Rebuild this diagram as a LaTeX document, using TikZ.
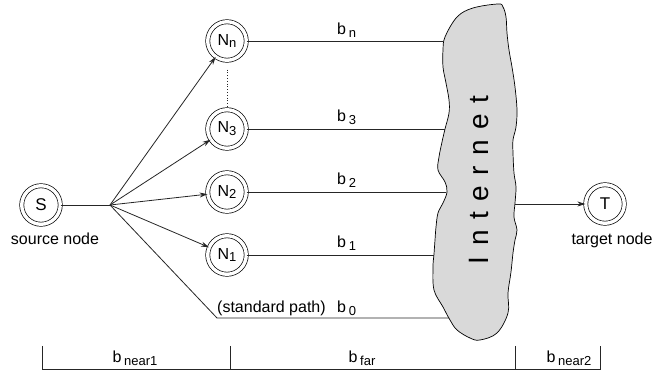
\documentclass[tikz,border=0pt]{standalone}
\usepackage{fontspec}
\setmainfont{Liberation Sans}
\usetikzlibrary{arrows.meta}
\newcommand\lsub[1]{\raisebox{-0.35ex}{\fontsize{13}{13}\selectfont #1}}
\newcommand\gp{\hspace{10.5pt}}
\begin{document}
\begin{tikzpicture}[x=1pt,y=-1pt, font=\fontsize{16}{19}\selectfont,
  dnode/.style={circle, draw, double, double distance=3.4pt, line width=0.7pt, minimum size=38.5pt, inner sep=0pt},
  link/.style={line width=0.8pt, draw=black!85},
  arr/.style={link, -{Stealth[length=8pt,width=5pt]}},
  lbl/.style={inner sep=0pt, anchor=base west},
  barlbl/.style={inner sep=0pt, anchor=base}]
\useasboundingbox (0,0) rectangle (657,371);
% cloud
\draw[fill=gray!30, line width=0.7pt] plot[smooth cycle, tension=0.6] coordinates {
 (445,37) (457,17) (473,8) (498,4) (503,7) (506,17) (507,33) (509,50) (512,67) (515,87)
 (517,110) (516,127) (513,140) (513,153) (514,173) (516,187) (515,203) (514,217) (517,230)
 (515,240) (513,253) (511,272) (508,293) (508,313) (497,333) (480,340) (470,338) (457,330)
 (450,320) (443,307) (434,290) (433,267) (434,254) (435,240) (436,227) (438,213) (443,203)
 (447,192) (445,182) (438,170) (439,157) (442,142) (445,129) (449,113) (449,100) (446,83)
 (443,67) (443,50)};
\node[rotate=90, inner sep=0pt, font=\fontsize{28}{30}\selectfont] (inet) at (479,180)
  {I\gp n\gp t\gp e\gp r\gp n\gp e\gp t};
\coordinate (cn) at (443,41);
\coordinate (c3) at (445,129);
\coordinate (c2) at (446,192);
\coordinate (c1) at (434,255);
\coordinate (c0) at (449,318);
\coordinate (cT) at (515,204);
% nodes
\node[dnode, font=\fontsize{17}{19}\selectfont] (S) at (41,205) {S};
\node[dnode] (Nn) at (227,41) {N\lsub{n}};
\node[dnode] (N3) at (227,129) {N\lsub{3}};
\node[dnode] (N2) at (227,192) {N\lsub{2}};
\node[dnode] (N1) at (227,255) {N\lsub{1}};
\node[dnode, font=\fontsize{17}{19}\selectfont] (T) at (605,204) {T};
\node (slab) at (55,239) {source node};
\node (tlab) at (612,240) {target node};
\coordinate (J) at (110,205);
\coordinate (sp) at (217,318);
% connectors
\draw[link] (S) -- (J);
\draw[arr] (J) -- (Nn);
\draw[arr] (J) -- (N3);
\draw[arr] (J) -- (N2);
\draw[arr] (J) -- (N1);
\draw[link] (J) -- (sp) -- (c0);
\draw[link, dotted, shorten <=9pt, shorten >=1pt] (Nn) -- (N3);
\draw[link] (Nn) -- (cn);
\draw[link] (N3) -- (c3);
\draw[link] (N2) -- (c2);
\draw[link] (N1) -- (c1);
\draw[arr] (cT) -- (T);
% path labels
\node[lbl] (ln) at (337,35) {b\,\lsub{n}};
\node[lbl] (l3) at (337,122) {b\,\lsub{3}};
\node[lbl] (l2) at (337,185) {b\,\lsub{2}};
\node[lbl] (l1) at (337,248) {b\,\lsub{1}};
\node[lbl] (lsp) at (217,313) {(standard path)};
\node[lbl] (l0) at (337,313) {b\,\lsub{0}};
% bottom bar
\draw[link] (42,346) -- (42,369) -- (600,369) -- (600,346);
\draw[link] (230,346) -- (230,369);
\draw[link] (515,346) -- (515,369);
\node[barlbl] (bn1) at (135,363) {b\,\lsub{near1}};
\node[barlbl] (bf) at (362,363) {b\,\lsub{far}};
\node[barlbl] (bn2) at (569,363) {b\,\lsub{near2}};
\end{tikzpicture}
\end{document}
